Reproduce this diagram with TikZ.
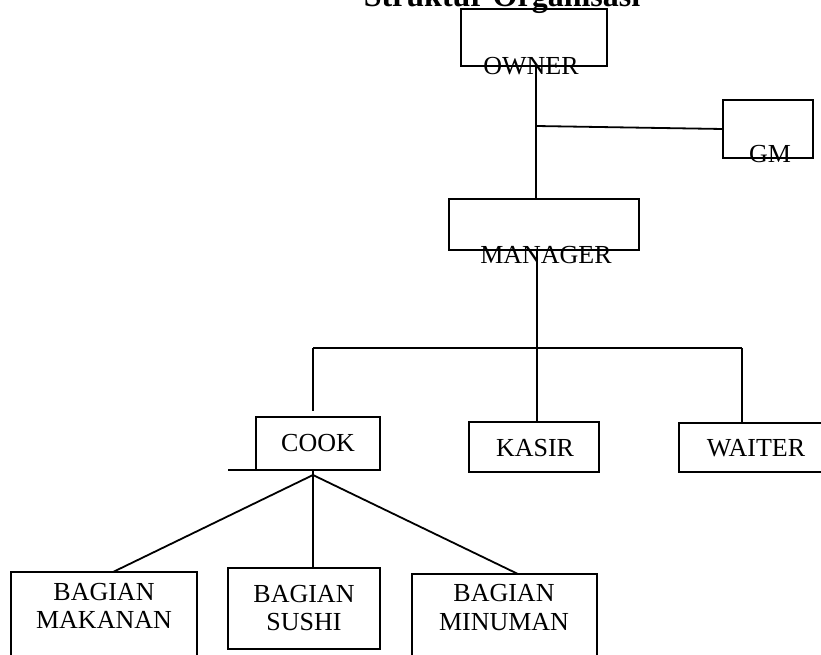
\documentclass[tikz,border=0pt]{standalone}
\usepackage{fontspec}
\setmainfont{Liberation Serif}
\begin{document}
\begin{tikzpicture}[x=1pt,y=-1pt,
  box/.style={draw, line width=1.9pt, inner sep=0pt, outer sep=0pt, fill=none},
  thinbox/.style={draw, line width=1.4pt, inner sep=0pt, outer sep=0pt},
  lbl/.style={inner sep=0pt, font=\fontsize{26}{28.5}\selectfont, align=center},
  conn/.style={line width=1.8pt}]
\useasboundingbox (0,0) rectangle (821,655);
\clip (0,0) rectangle (821,655);
% title
\node[anchor=base, inner sep=0pt, font=\fontsize{32}{36}\selectfont\bfseries] (title) at (502,7) {Struktur Organisasi};
% boxes
\node[box, minimum width=146pt, minimum height=57pt] (owner) at (534,37.5) {};
\node[box, minimum width=90pt, minimum height=58pt] (gm) at (768,129) {};
\node[box, minimum width=190pt, minimum height=51pt] (manager) at (544,224.5) {};
\node[box, minimum width=124pt, minimum height=53pt] (cook) at (318,443.5) {};
\node[box, minimum width=130pt, minimum height=50pt] (kasir) at (534,447) {};
\node[box, minimum width=154pt, minimum height=49pt] (waiter) at (756,447.5) {};
\node[thinbox, minimum width=186pt, minimum height=108pt] (makanan) at (104,626) {};
\node[box, minimum width=152pt, minimum height=81pt] (sushi) at (304,608.5) {};
\node[thinbox, minimum width=185pt, minimum height=106pt] (minuman) at (504.5,627) {};
% labels
\node[lbl, anchor=base] (towner) at (531,75) {OWNER};
\node[lbl, anchor=base] (tgm) at (770,163) {GM};
\node[lbl, anchor=base] (tmanager) at (546,263) {MANAGER};
\node[lbl] (tcook) at (318,443) {COOK};
\node[lbl] (tkasir) at (535,448) {KASIR};
\node[lbl] (twaiter) at (756,448) {WAITER};
\node[lbl] (tmakanan) at (104,606) {BAGIAN\\MAKANAN};
\node[lbl] (tsushi) at (304,608) {BAGIAN\\SUSHI};
\node[lbl] (tminuman) at (504,607.5) {BAGIAN\\MINUMAN};
% junction coordinates
\coordinate (j1) at (536,126);
\coordinate (j2) at (537,348);
\coordinate (bl) at (313,348);
\coordinate (br) at (742,348);
\coordinate (apex) at (313,475);
\coordinate (ext) at (228,470);
% connectors
\draw[conn] (owner.south -| j1) -- (manager.north -| j1);
\draw[conn] (j1) -- (gm.west);
\draw[conn] (manager.south -| j2) -- (kasir.north -| j2);
\draw[conn] (bl) -- (br);
\draw[conn] (bl) -- ([yshift=6pt]cook.north -| bl);
\draw[conn] (br) -- (waiter.north -| br);
\draw[conn] (ext) -- (cook.south west);
\draw[conn] (cook.south -| apex) -- (sushi.north -| apex);
\draw[conn] (apex) -- (113,572 |- makanan.north);
\draw[conn] (apex) -- (518,574 |- minuman.north);
\end{tikzpicture}
\end{document}
